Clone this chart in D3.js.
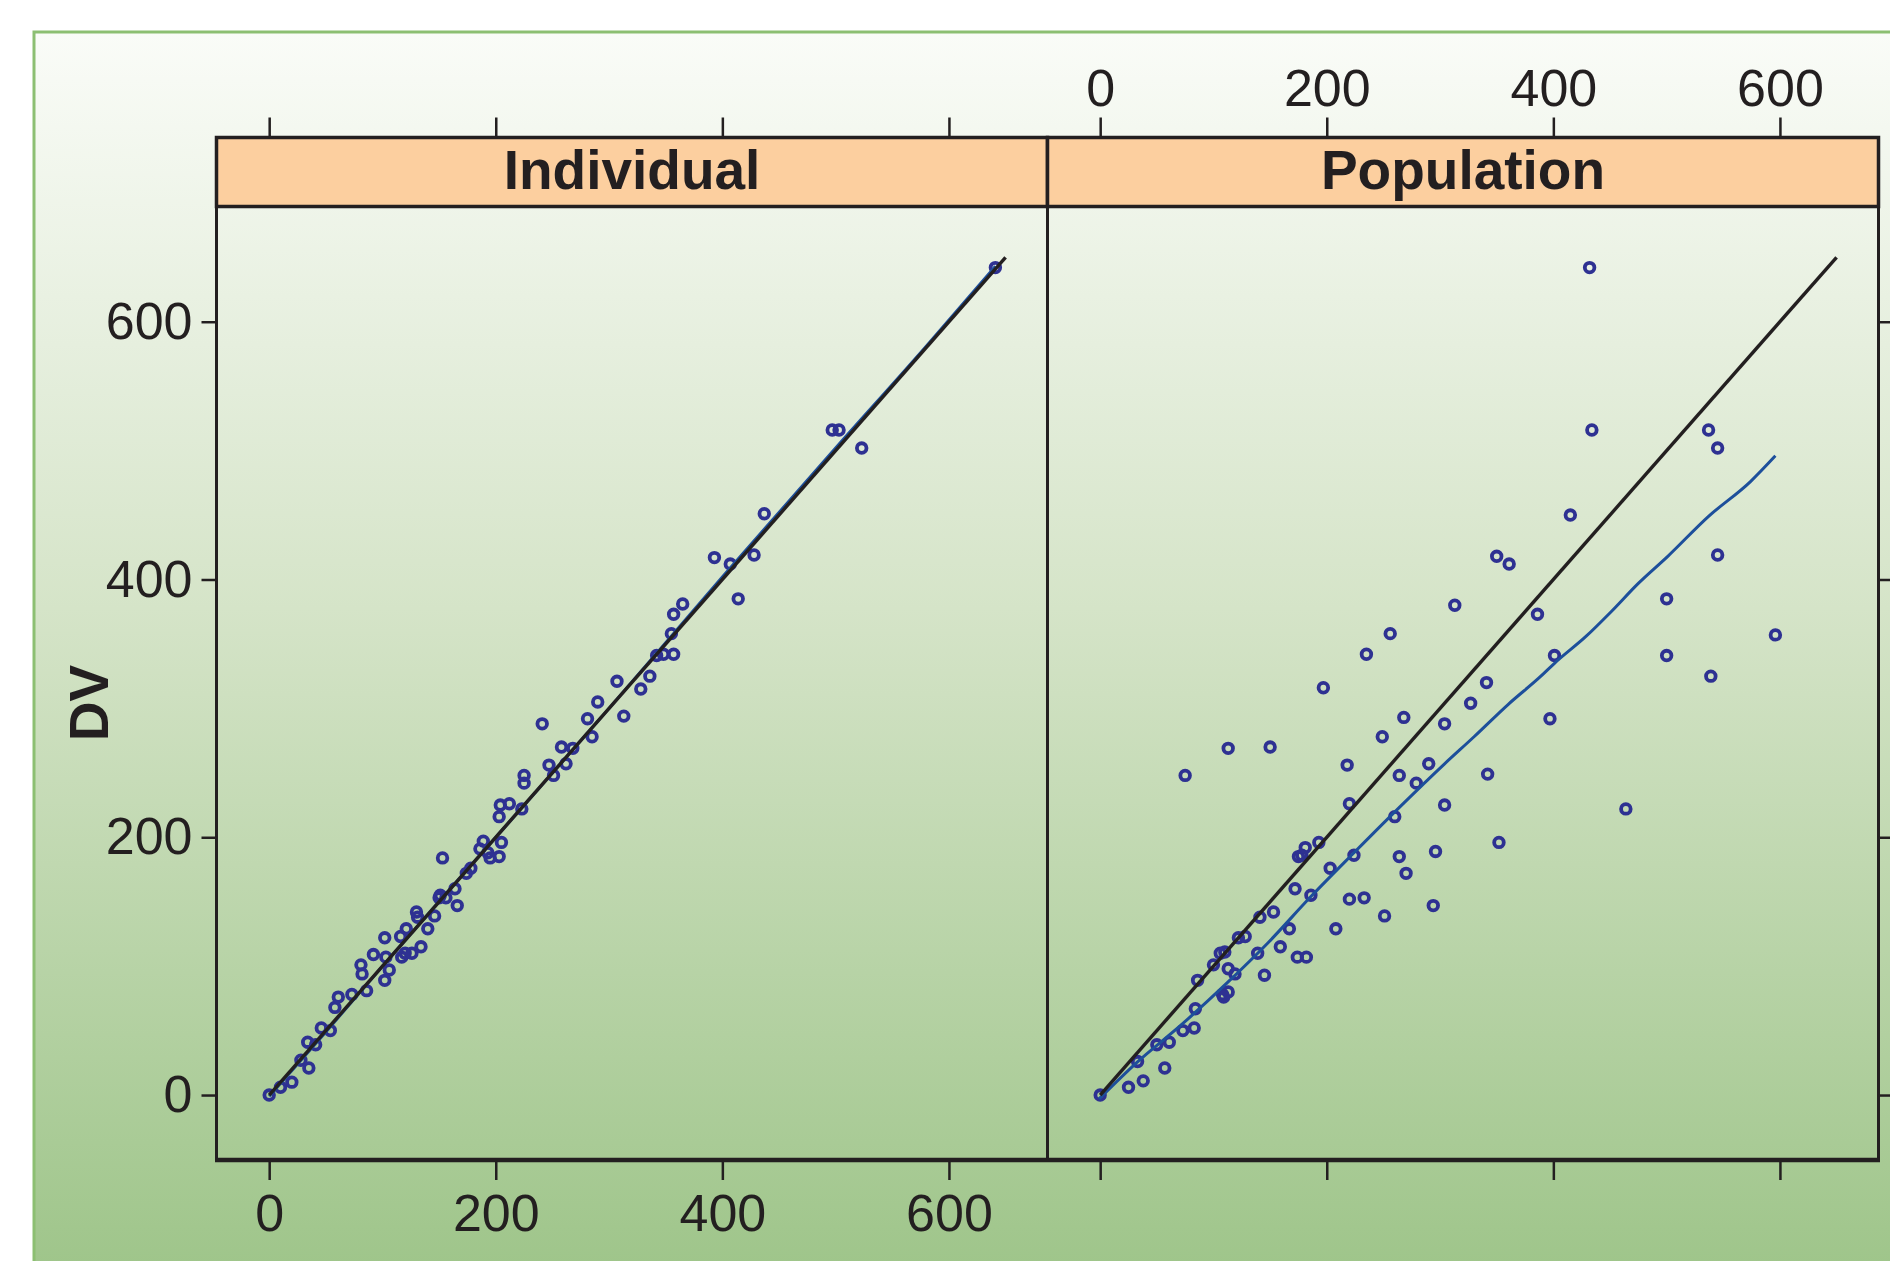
<!DOCTYPE html>
<html>
<head>
<meta charset="utf-8">
<script src="https://cdn.jsdelivr.net/npm/d3@7"></script>
<style>
  body { margin: 0; background: #fff; }
  svg { display: block; }
  text { font-family: "Liberation Sans", Arial, sans-serif; fill: #231f20; }
</style>
</head>
<body>
<svg id="chart"></svg>
<script>
// DATA
const panels = ["Individual", "Population"];
const tickValues = [0, 200, 400, 600];
const identityLine = [0, 650];

const indivPred = [0, 10, 20, 28, 35, 34, 41, 46, 54, 58, 61, 73, 86, 81, 82, 92, 102, 103, 106, 102, 117, 120, 126, 116, 121, 134, 130, 131, 140, 146, 151, 150, 156, 153, 166, 164, 174, 178, 189, 186, 193, 195, 203, 205, 203, 204, 212, 223, 225, 225, 247, 251, 262, 241, 258, 268, 281, 290, 285, 313, 307, 328, 336, 342, 348, 357, 355, 357, 365, 393, 407, 414, 428, 437, 497, 503, 523, 641];
const indivDv = [0, 6, 10, 27, 21, 41, 39, 52, 50, 68, 76, 78, 81, 101, 94, 109, 122, 107, 97, 89, 107, 110, 110, 123, 129, 115, 142, 138, 129, 139, 155, 153, 153, 184, 147, 160, 172, 176, 197, 191, 188, 184, 185, 196, 216, 225, 226, 222, 242, 248, 256, 248, 257, 288, 270, 269, 292, 305, 278, 294, 321, 315, 325, 341, 342, 342, 358, 373, 381, 417, 412, 385, 419, 451, 516, 516, 502, 642];

const popPred = [0, 25, 38, 33, 57, 50, 61, 73, 83, 84, 86, 100, 106, 110, 108, 113, 109, 113, 119, 122, 128, 139, 145, 141, 153, 159, 167, 172, 174, 182, 175, 178, 181, 193, 186, 203, 208, 220, 218, 224, 220, 233, 249, 251, 264, 264, 270, 260, 268, 279, 290, 294, 296, 304, 304, 327, 342, 352, 397, 75, 113, 150, 434, 537, 545, 415, 350, 361, 545, 313, 386, 500, 596, 401, 500, 539, 341, 464, 432, 256, 235, 197];
const popDv = [0, 6, 11, 26, 21, 39, 41, 50, 52, 67, 89, 101, 110, 111, 78, 80, 76, 98, 94, 122, 123, 110, 93, 138, 142, 115, 129, 160, 107, 107, 185, 186, 192, 196, 155, 176, 129, 226, 256, 186, 152, 153, 278, 139, 248, 185, 172, 216, 293, 242, 257, 147, 189, 225, 288, 304, 249, 196, 292, 248, 269, 270, 516, 516, 502, 450, 418, 412, 419, 380, 373, 385, 357, 341, 341, 325, 320, 222, 642, 358, 342, 316];

// smooth (loess) lines
const indivLoessX = [0, 50, 100, 200, 300, 400, 500, 580, 641];
const indivLoessY = [-1, 49, 100, 200, 300, 402, 502, 581, 643];
const popLoessX = [-1, 32, 71, 112, 148, 186, 224, 265, 304, 330, 360, 389, 401, 429, 451, 475, 501, 537, 574, 596];
const popLoessY = [-3, 25, 54, 87, 118, 154, 188, 224, 257, 278, 303, 325, 335, 356, 375, 397, 418, 449, 476, 496];

const width = 1890;
const height = 1261;
const frame = { left: 216.5, mid: 1047.5, right: 1878.5, stripTop: 137.5, stripBottom: 206.5, bottom: 1160 };
const ink = "#231f20";

const svg = d3.select("#chart").attr("width", width).attr("height", height);

// BACKGROUND
const grad = svg.append("defs").append("linearGradient").attr("id", "bg").attr("x1", 0).attr("y1", 0).attr("x2", 0).attr("y2", 1);
grad.append("stop").attr("offset", "0%").attr("stop-color", "#fafcf8");
grad.append("stop").attr("offset", "45%").attr("stop-color", "#d5e4c8");
grad.append("stop").attr("offset", "100%").attr("stop-color", "#9bc386");
svg.append("rect").attr("x", 34).attr("y", 32).attr("width", width + 20).attr("height", height + 20)
    .attr("fill", "url(#bg)").attr("stroke", "#8cbf72").attr("stroke-width", 3);

const y = d3.scaleLinear().domain([-50.4, 689.4]).range([frame.bottom, frame.stripBottom]);

const series = [
    { pred: indivPred, dv: indivDv, lx: indivLoessX, ly: indivLoessY },
    { pred: popPred, dv: popDv, lx: popLoessX, ly: popLoessY }
];

panels.forEach((name, i) => {
    const x0 = i === 0 ? frame.left : frame.mid;
    const x1 = i === 0 ? frame.mid : frame.right;
    const x = d3.scaleLinear().domain([-46.5, 687]).range([x0, x1]);
    const s = series[i];
    const g = svg.append("g");

    // axes: lattice style, labels alternate between panels
    const top = g.append("g").attr("transform", `translate(0,${frame.stripTop})`)
        .call(d3.axisTop(x).tickValues(tickValues).tickSize(20).tickPadding(12).tickFormat(i === 1 ? d3.format("d") : () => ""));
    const bottom = g.append("g").attr("transform", `translate(0,${frame.bottom})`)
        .call(d3.axisBottom(x).tickValues(tickValues).tickSize(20).tickPadding(14).tickFormat(i === 0 ? d3.format("d") : () => ""));
    [top, bottom].forEach(a => {
        a.select(".domain").remove();
        a.selectAll("line").attr("stroke", ink).attr("stroke-width", 2.5);
        a.selectAll("text").attr("font-size", 52).attr("fill", ink).style("font-family", '"Liberation Sans", Arial, sans-serif');
    });

    // strip
    g.append("rect").attr("x", x0).attr("y", frame.stripTop).attr("width", x1 - x0).attr("height", frame.stripBottom - frame.stripTop)
        .attr("fill", "#fccf9f").attr("stroke", ink).attr("stroke-width", 3.5);
    g.append("text").attr("x", (x0 + x1) / 2).attr("y", 189).attr("text-anchor", "middle")
        .attr("font-size", 55).attr("font-weight", "bold").text(name);

    // points
    const pts = s.pred.map((p, k) => ({ p, d: s.dv[k] }));
    g.selectAll(".pt").data(pts).enter().append("circle").attr("class", "pt")
        .attr("cx", d => x(d.p)).attr("cy", d => y(d.d)).attr("r", 4.8)
        .attr("fill", "none").attr("stroke", "#2e3192").attr("stroke-width", 3.8);

    // smooth line
    const loess = s.lx.map((v, k) => [v, s.ly[k]]);
    g.append("path").datum(loess).attr("fill", "none").attr("stroke", "#1d4f9b").attr("stroke-width", 3)
        .attr("d", d3.line().curve(d3.curveMonotoneX).x(d => x(d[0])).y(d => y(d[1])));

    // identity line
    g.append("path").datum(identityLine).attr("fill", "none").attr("stroke", ink).attr("stroke-width", 3.4)
        .attr("d", d3.line().x(d => x(d)).y(d => y(d)));

    // panel frame
    g.append("rect").attr("x", x0).attr("y", frame.stripBottom).attr("width", x1 - x0).attr("height", frame.bottom - frame.stripBottom)
        .attr("fill", "none").attr("stroke", ink).attr("stroke-width", 3);
});

// bottom edge is drawn heavier in the original
svg.append("line").attr("x1", frame.left - 1.5).attr("x2", frame.right + 1.5).attr("y1", frame.bottom).attr("y2", frame.bottom)
    .attr("stroke", ink).attr("stroke-width", 4.5);

// Y AXES
const yLeft = svg.append("g").attr("transform", `translate(${frame.left},0)`)
    .call(d3.axisLeft(y).tickValues(tickValues).tickSize(15).tickPadding(9).tickFormat(d3.format("d")));
const yRight = svg.append("g").attr("transform", `translate(${frame.right},0)`)
    .call(d3.axisRight(y).tickValues(tickValues).tickSize(15).tickFormat(() => ""));
[yLeft, yRight].forEach(a => {
    a.select(".domain").remove();
    a.selectAll("line").attr("stroke", ink).attr("stroke-width", 2.5);
    a.selectAll("text").attr("font-size", 52).attr("fill", ink).style("font-family", '"Liberation Sans", Arial, sans-serif');
});

svg.append("text").attr("transform", "translate(108,703) rotate(-90)").attr("text-anchor", "middle")
    .attr("font-size", 55).attr("font-weight", "bold").text("DV");
</script>
</body>
</html>
